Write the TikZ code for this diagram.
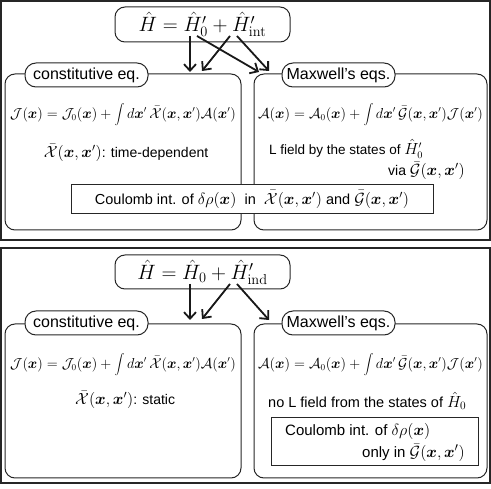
\documentclass[tikz,border=0pt]{standalone}
\usepackage{bm}
\usepackage[no-math]{fontspec}
\setmainfont{Liberation Sans}
\usetikzlibrary{arrows.meta}
\newcommand{\bx}{\bm{x}}
\newcommand{\cJ}{\mathcal{J}}
\newcommand{\cA}{\mathcal{A}}
\newcommand{\Xb}{\bar{\mathcal{X}}}
\newcommand{\Gb}{\bar{\mathcal{G}}}
\newcommand{\mbig}[1]{\scalebox{1.12}{$#1$}}
\tikzset{
  panel/.style={draw=black!85, line width=1.6pt},
  hbox/.style={draw=black!85, line width=1pt, rounded corners=10pt, inner sep=0pt,
    minimum width=175pt, font=\fontsize{20}{24}\selectfont},
  bigbox/.style={draw=black!85, line width=1pt, rounded corners=10pt, inner sep=0pt},
  tag/.style={draw=black!85, fill=white, line width=1pt, rounded corners=11pt, inner sep=0pt,
    minimum height=24pt, font=\fontsize{16}{19}\selectfont},
  eqn/.style={inner sep=0pt, font=\fontsize{13.5}{16}\selectfont},
  txt/.style={inner sep=0pt, font=\fontsize{14}{17}\selectfont},
  cbox/.style={draw=black!85, fill=white, line width=1pt, inner sep=0pt},
  arr/.style={line width=1.8pt, draw=black!90, -{Straight Barb[length=6.5pt,width=12pt]}}
}
\begin{document}
\begin{tikzpicture}[x=1pt,y=-1pt]
\useasboundingbox (0,0) rectangle (491,489);
% ---------- top panel ----------
\draw[panel] (1,1) rectangle (490,240);
\node[bigbox, minimum width=236pt, minimum height=156pt] (L1) at (123,152) {};
\node[bigbox, minimum width=233pt, minimum height=156pt] (R1) at (370.5,152) {};
\node[hbox, minimum height=35pt] (h1) at (202.5,24.5) {$\hat{H} = \hat{H}'_0 + \hat{H}'_{\mathrm{int}}$};
\node[tag, minimum width=123pt] (cl1) at (86.5,75) {constitutive eq.};
\node[tag, minimum width=113pt] (mx1) at (338.5,75) {Maxwell's eqs.};
\node[eqn] (eqL1) at (123,115) {$\displaystyle \cJ(\bx) = \cJ_0(\bx) + \int d\bx'\,\Xb(\bx,\bx')\cA(\bx')$};
\node[eqn] (eqR1) at (370.5,115) {$\displaystyle \cA(\bx) = \cA_0(\bx) + \int d\bx'\,\Gb(\bx,\bx')\cJ(\bx')$};
\node[txt] (xs1) at (126,153) {\mbig{\Xb(\bx,\bx')}: time-dependent};
\node[txt, anchor=west, font=\fontsize{13.5}{16}\selectfont] (lf1) at (269,149) {L field by the states of \mbig{\hat{H}'_0}};
\node[txt, anchor=east] (via1) at (465,171) {via \mbig{\Gb(\bx,\bx')}};
\node[cbox, minimum width=362pt, minimum height=29pt, font=\fontsize{14.5}{17}\selectfont] (cb1) at (252,199.5)
  {Coulomb int. of \mbig{\delta\rho(\bx)}\ \ in\ \ \mbig{\Xb(\bx,\bx')} and \mbig{\Gb(\bx,\bx')}};
\coordinate (a1s) at (190,36); \coordinate (a1e) at (190,72);
\coordinate (b1s) at (230,36); \coordinate (b1e) at (202,71);
\coordinate (c1s) at (197,36); \coordinate (c1e) at (259,72);
\coordinate (d1s) at (237,36); \coordinate (d1e) at (269,71);
\draw[arr] (a1s) -- (a1e);
\draw[arr] (b1s) -- (b1e);
\draw[arr] (c1s) -- (c1e);
\draw[arr] (d1s) -- (d1e);
% ---------- bottom panel ----------
\draw[panel] (1,248) rectangle (490,483);
\node[bigbox, minimum width=236pt, minimum height=154pt] (L2) at (123,401) {};
\node[bigbox, minimum width=233pt, minimum height=154pt] (R2) at (370.5,401) {};
\node[hbox, minimum height=34pt] (h2) at (202.5,272) {$\hat{H} = \hat{H}_0 + \hat{H}'_{\mathrm{ind}}$};
\node[tag, minimum width=123pt] (cl2) at (86.5,323) {constitutive eq.};
\node[tag, minimum width=113pt] (mx2) at (338.5,323) {Maxwell's eqs.};
\node[eqn] (eqL2) at (123,365) {$\displaystyle \cJ(\bx) = \cJ_0(\bx) + \int d\bx'\,\Xb(\bx,\bx')\cA(\bx')$};
\node[eqn] (eqR2) at (370.5,365) {$\displaystyle \cA(\bx) = \cA_0(\bx) + \int d\bx'\,\Gb(\bx,\bx')\cJ(\bx')$};
\node[txt, anchor=west] (xs2) at (75,400) {\mbig{\Xb(\bx,\bx')}: static};
\node[txt, anchor=west, font=\fontsize{14.5}{17}\selectfont] (nl2) at (268,401) {no L field from the states of \mbig{\hat{H}_0}};
\node[cbox, minimum width=207pt, minimum height=48pt] (cb2) at (374.5,442) {};
\node[txt, anchor=west, font=\fontsize{15}{18}\selectfont] (cb2a) at (285,431) {Coulomb int. of \mbig{\delta\rho(\bx)}};
\node[txt, anchor=east, font=\fontsize{15}{18}\selectfont] (cb2b) at (465,453) {only in \mbig{\Gb(\bx,\bx')}};
\coordinate (a2s) at (190,284); \coordinate (a2e) at (190,320);
\coordinate (b2s) at (230,284); \coordinate (b2e) at (202,319);
\coordinate (d2s) at (237,284); \coordinate (d2e) at (269,320);
\draw[arr] (a2s) -- (a2e);
\draw[arr] (b2s) -- (b2e);
\draw[arr] (d2s) -- (d2e);
\end{tikzpicture}
\end{document}
